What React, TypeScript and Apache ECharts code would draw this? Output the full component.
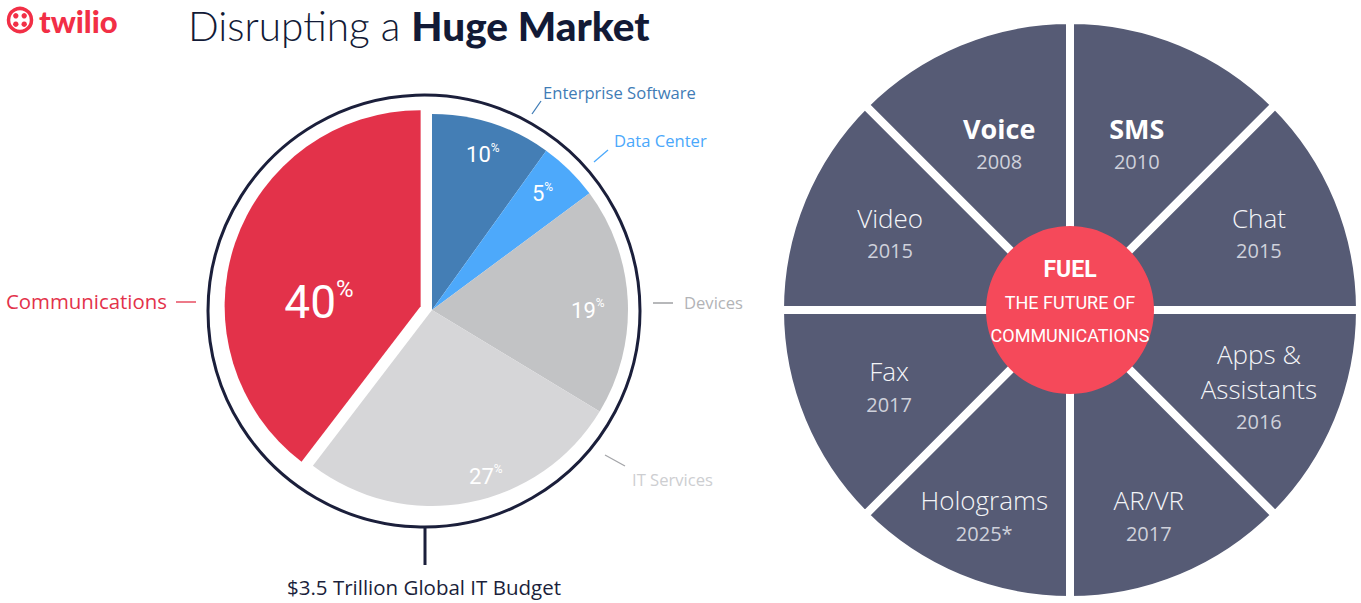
import React, { useEffect, useRef } from 'react';
import * as echarts from 'echarts';

// ---------- data ----------
const budgetCategories = ['Enterprise Software', 'Data Center', 'Devices', 'IT Services', 'Communications'];
const budgetShares = [10, 5, 19, 27, 40];
const budgetTotalLabel = '$3.5 Trillion Global IT Budget';

const channelNames = ['SMS', 'Chat', 'Apps &\nAssistants', 'AR/VR', 'Holograms', 'Fax', 'Video', 'Voice'];
const channelYears = ['2010', '2015', '2016', '2017', '2025*', '2017', '2015', '2008'];
const channelWeights = [1, 1, 1, 1, 1, 1, 1, 1];
const channelBold = ['SMS', 'Voice'];
const hubLines = ['FUEL', 'THE FUTURE OF', 'COMMUNICATIONS'];

const titleLight = 'Disrupting a ';
const titleBold = 'Huge Market';
const brandName = 'twilio';

// ---------- styles / layout ----------
const budgetColors = ['#447eb5', '#4da9fb', '#c2c3c5', '#d6d6d8', '#e3324a'];
const budgetLabelColors = ['#3f7cb6', '#4aa8fb', '#b2b3b6', '#cdced1', '#e3324a'];
const budgetLineColors = ['#3f7cb6', '#4aa8fb', '#909195', '#a4a5a9', '#e3324a'];
const COND = "Roboto, 'Noto Sans', sans-serif";
const SANS = "'Open Sans', 'Noto Sans', sans-serif";
const NAVY = '#1b1f3b';
const BRAND = '#f22f46';

const PIE_C = [432, 310];
const PIE_R = 196;
const RING_C = [424, 311];
const RING_R = 216;
const WHEEL_C = [1070, 310];
const WHEEL_R = 290;
const HUB_R = 84;

const nameSpots = [
  { x: 543, y: 92, align: 'left', line: [[541, 101], [532, 114]] },
  { x: 614, y: 140, align: 'left', line: [[608, 150], [594, 162]] },
  { x: 684, y: 302, align: 'left', line: [[653, 303], [673, 303]] },
  { x: 632, y: 479, align: 'left', line: [[605, 455], [625, 466]] },
  { x: 167, y: 301, align: 'right', line: [[176, 302], [196, 302]] },
];
const pctNudge = [[0, 3], [-6, 2], [-10, 8], [23, 3], [-6, 28]];
const wheelNudge = [[-9, 17], [6, -1], [6, 1], [3, 23], [-10, 23], [2, 1], [3, -1], [5, 17]];

const pctRich = (big: boolean) => ({
  n: { fontFamily: COND, fontSize: big ? 46 : 22, color: '#ffffff', lineHeight: big ? 50 : 26 },
  p: { fontFamily: COND, fontSize: big ? 24 : 12, color: '#ffffff', verticalAlign: 'top', lineHeight: big ? 50 : 26 },
});

export default function App() {
  const ref = useRef<HTMLDivElement>(null);

  useEffect(() => {
    if (!ref.current) return;
    const chart = echarts.init(ref.current, undefined, { renderer: 'svg' });

    const option: any = {
      animation: false,
      backgroundColor: '#ffffff',
      title: {
        text: `{a|${titleLight}}{b|${titleBold}}`,
        left: 188,
        top: 0,
        padding: 0,
        textStyle: {
          rich: {
            a: { fontFamily: 'Lato, sans-serif', fontWeight: 300, fontSize: 40.5, color: '#121a36', lineHeight: 50 },
            b: { fontFamily: 'Lato, sans-serif', fontWeight: 900, fontSize: 40.5, color: '#121a36', lineHeight: 50 },
          },
        },
      },
      graphic: [
        { type: 'circle', shape: { cx: 20, cy: 20, r: 11.5 }, style: { fill: 'none', stroke: BRAND, lineWidth: 3.5 } },
        { type: 'circle', shape: { cx: 15.8, cy: 15.8, r: 2.7 }, style: { fill: BRAND } },
        { type: 'circle', shape: { cx: 24.2, cy: 15.8, r: 2.7 }, style: { fill: BRAND } },
        { type: 'circle', shape: { cx: 15.8, cy: 24.2, r: 2.7 }, style: { fill: BRAND } },
        { type: 'circle', shape: { cx: 24.2, cy: 24.2, r: 2.7 }, style: { fill: BRAND } },
        {
          type: 'text', x: 39, y: 21,
          style: { text: brandName, fill: BRAND, font: '900 31px Lato, sans-serif', align: 'left', verticalAlign: 'middle' },
        },
        {
          type: 'circle', z: 1,
          shape: { cx: RING_C[0], cy: RING_C[1], r: RING_R },
          style: { fill: 'none', stroke: NAVY, lineWidth: 3 },
        },
        { type: 'line', shape: { x1: 425, y1: RING_C[1] + RING_R, x2: 425, y2: 565 }, style: { stroke: NAVY, lineWidth: 3 } },
        {
          type: 'text', x: 424, y: 587,
          style: { text: budgetTotalLabel, fill: NAVY, font: `20.5px ${SANS}`, align: 'center', verticalAlign: 'middle' },
        },
      ],
      series: [
        // main budget pie
        {
          type: 'pie',
          center: PIE_C,
          radius: [0, PIE_R],
          startAngle: 90,
          clockwise: true,
          selectedMode: 'single',
          selectedOffset: 12,
          silent: true,
          avoidLabelOverlap: false,
          emphasis: { disabled: true },
          data: budgetCategories.map((name, i) => ({
            name,
            value: budgetShares[i],
            selected: i === budgetCategories.length - 1,
            itemStyle: { color: budgetColors[i] },
            label: { show: i === budgetCategories.length - 1 },
          })),
          label: {
            position: 'inside',
            rotate: 0,
            formatter: (p: any) => `{n|${p.value}}{p|%}`,
            rich: pctRich(true),
          },
          labelLine: { show: false },
          labelLayout: (p: any) => ({ dx: pctNudge[p.dataIndex][0], dy: pctNudge[p.dataIndex][1] }),
        },
        // percentage labels for the smaller slices
        {
          type: 'pie',
          center: PIE_C,
          radius: [130, PIE_R],
          startAngle: 90,
          silent: true,
          avoidLabelOverlap: false,
          emphasis: { disabled: true },
          itemStyle: { color: 'rgba(0,0,0,0)' },
          data: budgetCategories.map((name, i) => ({
            name,
            value: budgetShares[i],
            label: { show: i !== budgetCategories.length - 1 },
          })),
          label: {
            position: 'inside',
            rotate: 0,
            formatter: (p: any) => `{n|${p.value}}{p|%}`,
            rich: pctRich(false),
          },
          labelLine: { show: false },
          labelLayout: (p: any) => ({ dx: pctNudge[p.dataIndex][0], dy: pctNudge[p.dataIndex][1] }),
        },
        // category names
        {
          type: 'pie',
          center: PIE_C,
          radius: [0, 218],
          startAngle: 90,
          silent: true,
          avoidLabelOverlap: false,
          emphasis: { disabled: true },
          itemStyle: { color: 'rgba(0,0,0,0)' },
          data: budgetCategories.map((name, i) => ({
            name,
            value: budgetShares[i],
            label: { color: budgetLabelColors[i], fontSize: i === budgetCategories.length - 1 ? 20.4 : 16.6 },
            labelLine: { lineStyle: { color: budgetLineColors[i] } },
          })),
          label: { position: 'outside', formatter: '{b}', fontFamily: SANS, fontSize: 16.6 },
          labelLine: { show: true, length: 8, length2: 8, lineStyle: { width: 1.3 } },
          labelLayout: (p: any) => {
            const s = nameSpots[p.dataIndex];
            return {
              x: s.x, y: s.y, align: s.align, verticalAlign: 'middle',
              labelLinePoints: [s.line[0], s.line[1], s.line[1]],
            };
          },
        },
        // communications wheel
        {
          type: 'pie',
          center: WHEEL_C,
          radius: [0, WHEEL_R],
          startAngle: 90,
          silent: true,
          emphasis: { disabled: true },
          itemStyle: { color: '#565b75', borderColor: '#ffffff', borderWidth: 8 },
          label: { show: false },
          labelLine: { show: false },
          data: channelNames.map((name, i) => ({ name, value: channelWeights[i] })),
        },
        // wheel labels
        {
          type: 'pie',
          center: WHEEL_C,
          radius: [100, WHEEL_R],
          startAngle: 90,
          silent: true,
          avoidLabelOverlap: false,
          emphasis: { disabled: true },
          itemStyle: { color: 'rgba(0,0,0,0)' },
          data: channelNames.map((name, i) => ({ name, value: channelWeights[i] })),
          label: {
            position: 'inside',
            rotate: 0,
            formatter: (p: any) => {
              const i = p.dataIndex;
              const tag = channelBold.includes(channelNames[i]) ? 'nb' : 'n';
              const lines = channelNames[i].split('\n').map((l) => `{${tag}|${l}}`).join('\n');
              return `${lines}\n{y|${channelYears[i]}}`;
            },
            rich: {
              n: { fontFamily: SANS, fontWeight: 300, fontSize: 26, color: '#f4f5f8', lineHeight: 35, align: 'center' },
              nb: { fontFamily: SANS, fontWeight: 'bold', fontSize: 27, color: '#ffffff', lineHeight: 35, align: 'center' },
              y: { fontFamily: SANS, fontSize: 20, color: '#cfd1db', lineHeight: 31, align: 'center' },
            },
          },
          labelLine: { show: false },
          labelLayout: (p: any) => ({ dx: wheelNudge[p.dataIndex][0], dy: wheelNudge[p.dataIndex][1] }),
        },
        // hub
        {
          type: 'pie',
          center: WHEEL_C,
          radius: [0, HUB_R],
          silent: true,
          emphasis: { disabled: true },
          itemStyle: { color: '#f5495a' },
          data: [{ name: hubLines[0], value: 1 }],
          label: {
            position: 'center',
            formatter: () => `{a|${hubLines[0]}}\n{b|${hubLines[1]}}\n{b|${hubLines[2]}}`,
            rich: {
              a: { fontFamily: COND, fontWeight: 'bold', fontSize: 23, color: '#ffffff', lineHeight: 33 },
              b: { fontFamily: COND, fontSize: 18, color: '#ffffff', lineHeight: 33 },
            },
          },
          labelLine: { show: false },
          labelLayout: () => ({ dy: -8 }),
        },
      ],
    };

    chart.setOption(option);
    return () => chart.dispose();
  }, []);

  return (
    <div
      ref={ref}
      style={{ position: 'fixed', left: 0, top: 0, width: 1361, height: 603 }}
    />
  );
}
